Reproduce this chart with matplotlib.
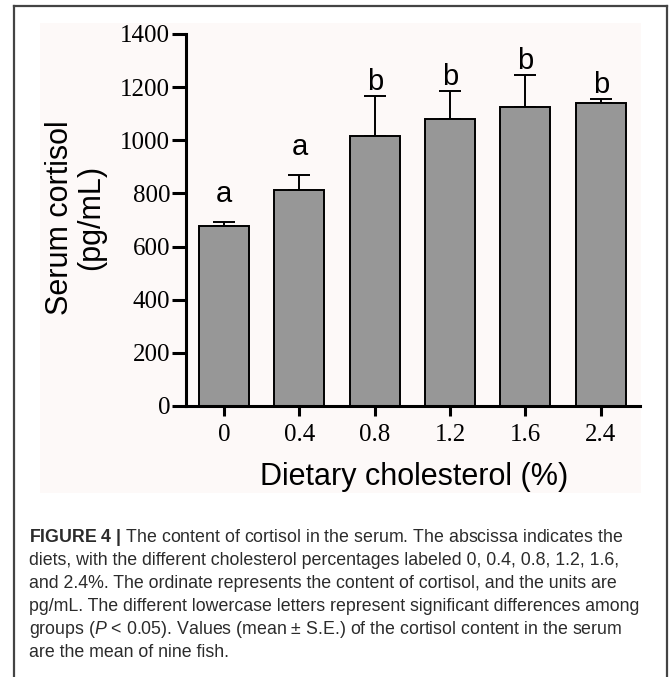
import numpy as np
import matplotlib
matplotlib.use('Agg')
import matplotlib.pyplot as plt
from matplotlib.lines import Line2D
from matplotlib.patches import Rectangle

# serum cortisol (pg/mL), mean and S.E.
diets = ['0', '0.4', '0.8', '1.2', '1.6', '2.4']
cortisol = [677, 813, 1018, 1081, 1124, 1139]
cortisol_se = [16, 56, 147, 106, 120, 17]
letters = ['a', 'a', 'b', 'b', 'b', 'b']

caption = [
    r'$\mathbf{FIGURE\ 4\ |}$ The content of cortisol in the serum. The abscissa indicates the',
    'diets, with the different cholesterol percentages labeled 0, 0.4, 0.8, 1.2, 1.6,',
    'and 2.4%. The ordinate represents the content of cortisol, and the units are',
    'pg/mL. The different lowercase letters represent significant differences among',
    r'groups ($P$ < 0.05). Values (mean $\pm$ S.E.) of the cortisol content in the serum',
    'are the mean of nine fish.',
]

plt.rcParams['font.family'] = 'Liberation Sans'
plt.rcParams['mathtext.fontset'] = 'custom'
plt.rcParams['mathtext.rm'] = 'Liberation Sans'
plt.rcParams['mathtext.it'] = 'Liberation Sans:italic'
plt.rcParams['mathtext.bf'] = 'Liberation Sans:bold'

W, H = 669, 677
fig = plt.figure(figsize=(W / 100, H / 100), dpi=100)

# outer frame + light panel behind the chart
fig.add_artist(Line2D([14 / W, 14 / W], [0, 1 - 6 / H], color='#444444', lw=1.6))
fig.add_artist(Line2D([667 / W, 667 / W], [0, 1 - 6 / H], color='#444444', lw=1.6))
fig.add_artist(Line2D([14 / W, 667 / W], [1 - 6 / H, 1 - 6 / H], color='#444444', lw=1.6))
fig.add_artist(Rectangle((40 / W, 1 - 493 / H), 601 / W, 470 / H,
                         facecolor='#fdf9f8', edgecolor='none', zorder=-5))

ax = fig.add_axes([185.6 / W, 1 - 406 / H, 454.4 / W, 372 / H])
ax.patch.set_alpha(0)

x = np.arange(len(diets))
ax.bar(x, cortisol, width=0.663, color='#979797', edgecolor='black', linewidth=1.4, zorder=2)
ax.errorbar(x, cortisol, yerr=[np.zeros(len(x)), cortisol_se], fmt='none',
            ecolor='black', elinewidth=1.4, capsize=8, capthick=1.4, zorder=1)

pad = {'a': 20, 'b': 6}
for xi, m, s, l in zip(x, cortisol, cortisol_se, letters):
    ax.annotate(l, (xi, m + s), xytext=(0, pad[l] * 0.72), textcoords='offset points',
                ha='center', va='baseline', fontsize=21)

ax.set_xlim(-0.51, 5.52)
ax.set_ylim(0, 1400)
ax.set_yticks(range(0, 1401, 200))
ax.set_xticks(x)
ax.set_xticklabels(diets)
for lab in ax.get_xticklabels() + ax.get_yticklabels():
    lab.set_fontfamily('Liberation Serif')
    lab.set_fontsize(18)
ax.tick_params(axis='y', length=10, width=2.2, pad=1)
ax.tick_params(axis='x', length=7, width=2.2, pad=6)
for sp in ['top', 'right']:
    ax.spines[sp].set_visible(False)
for sp in ['left', 'bottom']:
    ax.spines[sp].set_linewidth(2.2)

ax.set_xlabel('Dietary cholesterol (%)', fontsize=22, va='center')
ax.xaxis.set_label_coords(0.503, -0.191)
ax.set_ylabel('Serum cortisol\n(pg/mL)', fontsize=22, va='center', linespacing=1.05)
ax.yaxis.set_label_coords(-0.242, 0.507)

for i, line in enumerate(caption):
    fig.text(29 / W, 1 - (542 + i * 23) / H, line, fontsize=12.8, color='#2b2b2b',
             va='baseline', ha='left')

fig.savefig('out.png', dpi=100)
